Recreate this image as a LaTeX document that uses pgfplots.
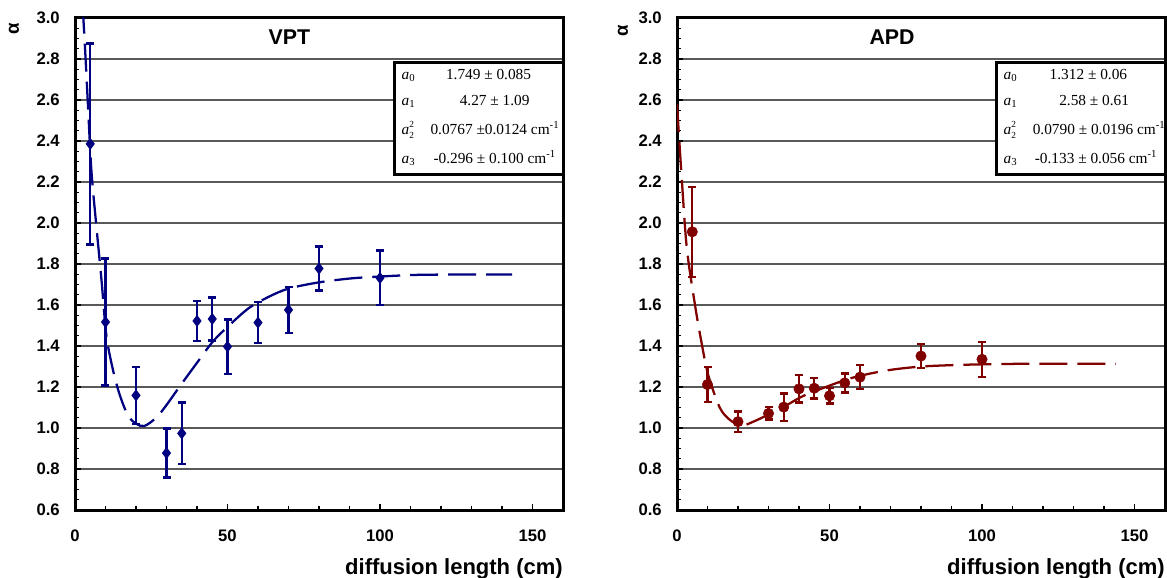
\documentclass[border=0pt]{standalone}
\usepackage{fontspec}
\setmainfont{Liberation Sans}
\newfontfamily\serif{Liberation Serif}
\usepackage{pgfplots}
\pgfplotsset{compat=1.18}
\definecolor{vpt}{RGB}{0,0,128}
\definecolor{apd}{RGB}{128,0,0}

\tikzset{legtext/.style={inner sep=0pt, anchor=west, font=\serif\fontsize{11.5}{13}\selectfont}}
\newcommand\legrow[3]{\makebox[#1][l]{#2}\makebox[107pt][c]{#3}}
\newcommand\coef[1]{{\itshape a}\textsubscript{#1}}
\newcommand\coefsq{{\itshape a}\rlap{\raisebox{5.2pt}{\fontsize{7}{8}\selectfont 2}}\raisebox{-3pt}{\fontsize{7}{8}\selectfont 2}}
\pgfplotsset{
 myaxis/.style={
  scale only axis, width=366pt, height=369pt,
  xmin=0, xmax=160, ymin=0.6, ymax=3.0,
  xtick={0,50,100,150}, minor x tick num=4,
  ytick={0.6,0.8,1.0,1.2,1.4,1.6,1.8,2.0,2.2,2.4,2.6,2.8,3.0}, minor y tick num=3,
  xtick pos=left, ytick pos=left,
  tick align=inside,
  major tick length=4.5pt, minor tick length=3.2pt,
  every tick/.style={black, line width=1.1pt},
  axis line style={line width=2.25pt},
  ymajorgrids, major grid style={black!65, line width=0.9pt},
  /pgf/number format/assume math mode=true,
  tick label style={font=\bfseries\fontsize{12.5}{14}\selectfont},
  y tick label style={/pgf/number format/.cd, fixed, fixed zerofill, precision=1, /tikz/.cd},
  xticklabel style={anchor=north, inner sep=0pt, yshift=-15pt},
  yticklabel style={anchor=east, inner sep=0pt, xshift=-11.25pt},
  xlabel={diffusion length (cm)},
  xlabel style={at={(rel axis cs:1,0)}, anchor=north east, inner sep=0pt, yshift=-36pt, font=\bfseries\fontsize{16.5}{18}\selectfont},
  ylabel={α},
  ylabel style={anchor=center, inner sep=0pt, font=\bfseries\fontsize{14}{15}\selectfont},
  error bars/y dir=both, error bars/y explicit,
  error bars/error bar style={line width=1.8pt, solid},
  error bars/error mark options={rotate=90, mark size=3pt, line width=1.8pt},
 },
 fitline/.style={no marks, smooth, line width=1.7pt, dash pattern=on 21pt off 7.5pt},
}

\begin{document}
\begin{tikzpicture}
\useasboundingbox (0,0) rectangle (875.25pt,433.5pt);

% ---------------- VPT ----------------
\begin{axis}[myaxis, at={(56.25pt,51pt)}, anchor=south west,
  ylabel style={at={([xshift=-45.75pt,yshift=-8.25pt]rel axis cs:0,1)}}]
\addplot[vpt, fitline] coordinates {
 (2.5,3.06) (3.3,2.85) (4.3,2.56) (5.4,2.25) (7.1,1.97) (8.7,1.72) (10.3,1.45)
 (12.5,1.28) (14.7,1.16) (17.4,1.06) (20.1,1.02) (22.8,1.01) (26.6,1.05)
 (29.9,1.11) (34.2,1.20) (39.6,1.31) (45.1,1.42) (50.5,1.50) (57,1.585)
 (63.5,1.64) (70,1.68) (79.8,1.71) (90.7,1.73) (101.5,1.74) (112.4,1.747)
 (128.7,1.749) (143.3,1.749)};
\addplot[vpt, only marks, mark=diamond*, mark size=3.9pt, mark options={line width=0.8pt}] table[x=x, y=y, y error=e] {
x y e
5 2.386 0.49
10 1.517 0.31
20 1.159 0.14
30 0.878 0.12
35 0.974 0.15
40 1.522 0.097
45 1.532 0.105
50 1.397 0.133
60 1.514 0.10
70 1.576 0.113
80 1.778 0.107
100 1.732 0.133
};
\node[anchor=north, inner sep=0pt, font=\bfseries\fontsize{16}{18}\selectfont] at (axis cs:70.3,2.946) {VPT};
\draw[line width=2.25pt, fill=white] (axis cs:104.6,2.239) rectangle (axis cs:160,2.785);
\node[legtext] at (axis cs:107,2.719) {\legrow{11.7pt}{\coef{0}}{1.749 ± 0.085}};
\node[legtext] at (axis cs:107,2.592) {\legrow{16.3pt}{\coef{1}}{4.27 ± 1.09}};
\node[legtext] at (axis cs:107,2.454) {\legrow{16.5pt}{\coefsq}{0.0767 ±0.0124 cm\textsuperscript{-1}}};
\node[legtext] at (axis cs:107,2.317) {\legrow{16.3pt}{\coef{3}}{-0.296 ± 0.100 cm\textsuperscript{-1}}};
\end{axis}

% ---------------- APD ----------------
\begin{axis}[myaxis, at={(507.75pt,51pt)}, anchor=south west,
  ylabel style={at={([xshift=-40.5pt,yshift=-9.5pt]rel axis cs:0,1)}}]
\addplot[apd, fitline] coordinates {
 (0,2.58) (1.5,2.23) (3.2,1.88) (5.9,1.60) (8,1.42) (10.2,1.26) (14,1.10)
 (17.3,1.04) (21.1,1.012) (24.9,1.03) (30.3,1.068) (35.8,1.11) (41.2,1.155)
 (48.8,1.20) (57.5,1.245) (68.4,1.28) (80.3,1.30) (95.5,1.309) (111.8,1.313)
 (128.2,1.313) (143.9,1.313)};
\addplot[apd, only marks, mark=*, mark size=3.9pt] table[x=x, y=y, y error=e] {
x y e
5 1.957 0.22
10 1.212 0.085
20 1.031 0.05
30 1.071 0.03
35 1.102 0.067
40 1.191 0.067
45 1.194 0.05
50 1.157 0.038
55 1.220 0.046
60 1.248 0.058
80 1.351 0.058
100 1.335 0.085
};
\node[anchor=north, inner sep=0pt, font=\bfseries\fontsize{16}{18}\selectfont] at (axis cs:70.5,2.946) {APD};
\draw[line width=2.25pt, fill=white] (axis cs:104.6,2.239) rectangle (axis cs:160,2.785);
\node[legtext] at (axis cs:107,2.719) {\legrow{10.1pt}{\coef{0}}{1.312 ± 0.06}};
\node[legtext] at (axis cs:107,2.592) {\legrow{14.4pt}{\coef{1}}{2.58 ± 0.61}};
\node[legtext] at (axis cs:107,2.454) {\legrow{18.1pt}{\coefsq}{0.0790 ± 0.0196 cm\textsuperscript{-1}}};
\node[legtext] at (axis cs:107,2.317) {\legrow{15.8pt}{\coef{3}}{-0.133 ± 0.056 cm\textsuperscript{-1}}};
\end{axis}
\end{tikzpicture}
\end{document}
